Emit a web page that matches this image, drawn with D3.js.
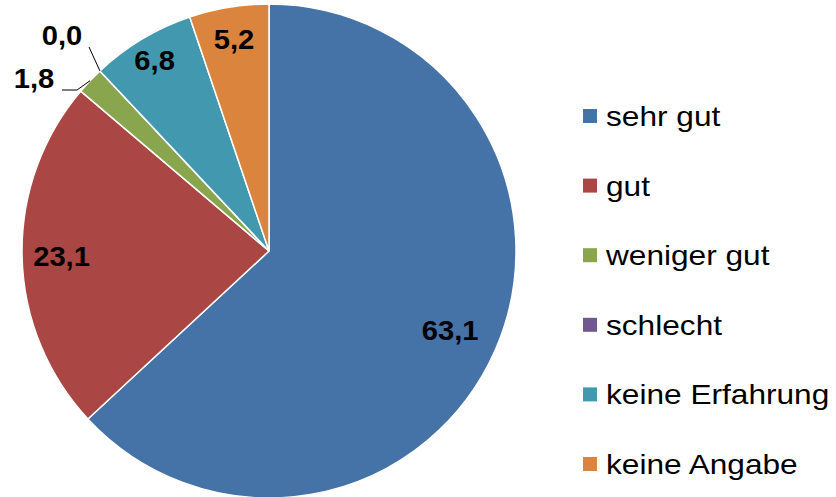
<!DOCTYPE html>
<html>
<head>
<meta charset="utf-8">
<script src="https://cdn.jsdelivr.net/npm/d3@7"></script>
<style>
  body { margin: 0; background: #fff; }
  text { font-family: "Liberation Sans", Arial, sans-serif; }
</style>
</head>
<body>
<div id="chart"></div>
<script>
var categories = ["sehr gut", "gut", "weniger gut", "schlecht", "keine Erfahrung", "keine Angabe"];
var values     = [63.1, 23.1, 1.8, 0.0, 6.8, 5.2];
var labels     = ["63,1", "23,1", "1,8", "0,0", "6,8", "5,2"];
var colors     = ["#4572A7", "#AA4643", "#89A54E", "#71588F", "#4198AF", "#DB843D"];

var width = 836, height = 497;
var cx = 269, cy = 251, radius = 247;

// label placement: inside labels at a fraction of the radius,
// outside labels get a position and a leader line
var labelRadius = [0.80, 0.84, null, null, 0.90, 0.87];
var outside = {
  2: { x: 34, y: 78, leader: [[77, 90], [62, 90]] },
  3: { x: 62, y: 35, leader: [[89, 47]] }
};

var svg = d3.select("#chart")
  .append("svg")
  .attr("width", width)
  .attr("height", height);

var pie = d3.pie().sort(null).value(function(d) { return d; });
var arcs = pie(values);
var arc = d3.arc().innerRadius(0).outerRadius(radius);

var g = svg.append("g").attr("transform", "translate(" + cx + "," + cy + ")");

// Draw the slices
g.selectAll("path")
  .data(arcs)
  .enter()
  .append("path")
  .attr("d", arc)
  .style("fill", function(d, i) { return colors[i]; })
  .style("stroke", "#fff")
  .style("stroke-width", "1.5px");

function midPoint(d, r) {
  var a = (d.startAngle + d.endAngle) / 2;
  return [r * Math.sin(a), -r * Math.cos(a)];
}

// Inside labels
arcs.forEach(function(d, i) {
  if (labelRadius[i] == null) return;
  var p = midPoint(d, labelRadius[i] * radius);
  svg.append("text")
    .attr("transform", "translate(" + (cx + p[0]) + "," + (cy + p[1] + 10) + ") scale(1.08,1)")
    .attr("text-anchor", "middle")
    .attr("font-size", 27)
    .attr("font-weight", "bold")
    .text(labels[i]);
});

// Outside labels with leader lines
Object.keys(outside).forEach(function(k) {
  var i = +k, o = outside[k];
  var e = midPoint(arcs[i], radius);
  var pts = [[cx + e[0], cy + e[1]]].concat(o.leader);
  svg.append("path")
    .attr("d", d3.line()(pts))
    .style("fill", "none")
    .style("stroke", "#000")
    .style("stroke-width", "1px");
  svg.append("text")
    .attr("transform", "translate(" + o.x + "," + (o.y + 10) + ") scale(1.08,1)")
    .attr("text-anchor", "middle")
    .attr("font-size", 27)
    .attr("font-weight", "bold")
    .text(labels[i]);
});

// Legend
var legendY = d3.scalePoint().domain(categories).range([126, 474]);

var legend = svg.selectAll("g.legend")
  .data(categories)
  .enter()
  .append("g")
  .attr("class", "legend");

legend.append("rect")
  .attr("x", 583)
  .attr("y", function(d) { return legendY(d) - 17; })
  .attr("width", 14)
  .attr("height", 14)
  .style("fill", function(d, i) { return colors[i]; });

legend.append("text")
  .attr("transform", function(d) { return "translate(606," + legendY(d) + ") scale(1.13,1)"; })
  .attr("font-size", 28)
  .text(function(d) { return d; });
</script>
</body>
</html>
